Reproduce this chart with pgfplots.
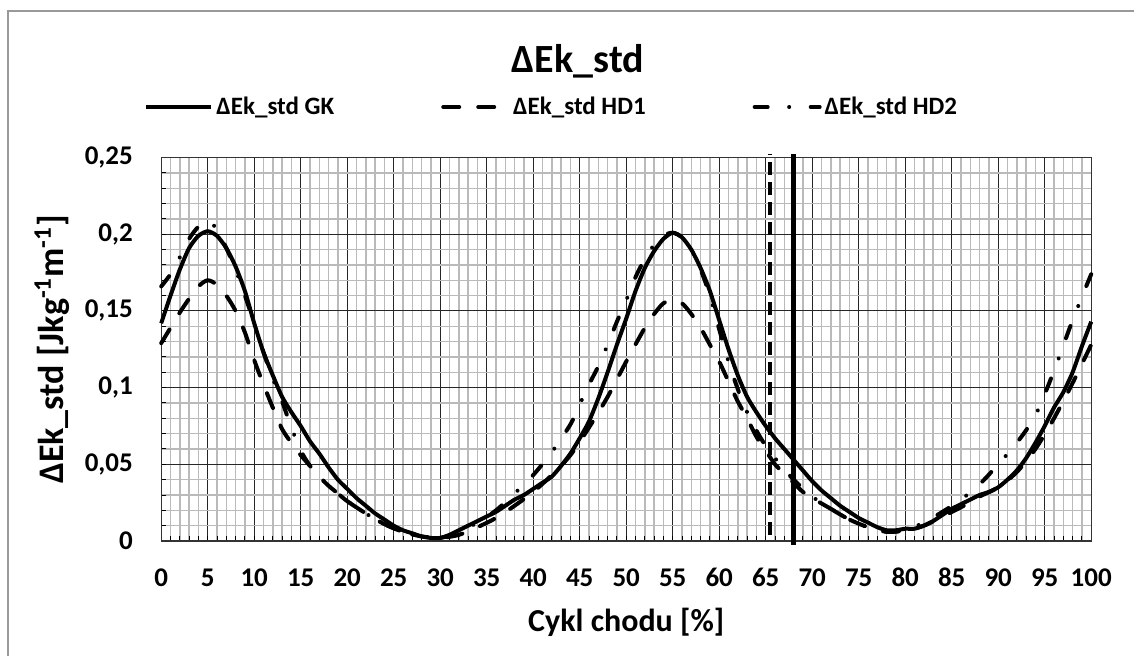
\documentclass[border=0pt]{standalone}
\usepackage{pgfplots}
\pgfplotsset{compat=1.18}
\usepackage{fontspec}
\setmainfont{Carlito}
\begin{document}
\begin{tikzpicture}
\path[use as bounding box] (0,0) rectangle (567pt,327.5pt);
\draw[color=gray!80, line width=1.3pt] (4pt,322pt) rectangle (620pt,-30pt);
\begin{axis}[
  at={(80.6pt,57pt)}, anchor=south west,
  scale only axis, width=465pt, height=191.7pt,
  xmin=0, xmax=100, ymin=0, ymax=0.25,
  clip=false,
  xtick={0,5,...,100}, ytick={0,0.05,...,0.25},
  minor x tick num=4, minor y tick num=4,
  grid=both,
  major grid style={black!85, line width=0.5pt},
  minor grid style={black!27, line width=0.75pt},
  axis line style={black!80, line width=0.6pt},
  tick align=inside, xtick pos=bottom, ytick pos=left,
  major tick length=2.5pt, minor tick length=2.5pt,
  tick style={black, line width=0.5pt},
  scaled y ticks=false,
  /pgf/number format/.cd, use comma, fixed, precision=2, assume math mode=true,
  /pgfplots/.cd,
  every tick label/.append style={font=\fontsize{13.5}{16}\selectfont\bfseries},
  yticklabel style={anchor=east, inner sep=0pt, xshift=-14pt},
  xticklabel style={anchor=base, inner sep=0pt, yshift=-22.5pt},
  xlabel={Cykl chodu [\%]},
  ylabel={ΔEk\_std [Jkg\textsuperscript{-1}m\textsuperscript{-1}]},
  xlabel style={at={(axis description cs:0.5,-0.211)}, anchor=center, font=\fontsize{16}{19}\selectfont\bfseries},
  ylabel style={at={(axis description cs:-0.1174,0.5)}, anchor=center, rotate=0, font=\fontsize{18}{22}\selectfont\bfseries},
  title={ΔEk\_std},
  title style={at={(axis description cs:0.448,1.19)}, anchor=base, font=\fontsize{20}{24}\selectfont\bfseries},
  legend columns=3,
  legend style={at={(axis description cs:-0.0185,1.132)}, anchor=west, draw=none, fill=none, inner sep=0pt,
    font=\fontsize{12.5}{15}\selectfont\bfseries,
    nodes={inner sep=1.5pt},
    /tikz/every even column/.append style={column sep=52pt}},
  legend image code/.code={\draw[#1] (0pt,0pt) -- (32.5pt,0pt);},
]
\addplot[black, line width=2pt, smooth, tension=0.4] coordinates {
(0,0.142)(1,0.160)(2,0.177)(3,0.191)(4,0.199)(5,0.202)(6,0.199)(7,0.191)(8,0.179)(9,0.163)
(10,0.142)(11,0.123)(12,0.108)(13,0.094)(14,0.084)(15,0.075)(16,0.065)(17,0.057)(18,0.048)(19,0.040)
(20,0.034)(21,0.028)(22,0.023)(23,0.018)(24,0.014)(25,0.010)(26,0.007)(27,0.005)(28,0.003)(29,0.002)
(30,0.002)(31,0.004)(32,0.007)(33,0.010)(34,0.013)(35,0.016)(36,0.019)(37,0.023)(38,0.027)(39,0.030)
(40,0.034)(41,0.038)(42,0.042)(43,0.049)(44,0.057)(45,0.067)(46,0.078)(47,0.093)(48,0.110)(49,0.128)
(50,0.145)(51,0.163)(52,0.178)(53,0.189)(54,0.197)(55,0.201)(56,0.198)(57,0.190)(58,0.178)(59,0.163)
(60,0.144)(61,0.125)(62,0.108)(63,0.094)(64,0.084)(65,0.075)(66,0.067)(67,0.060)(68,0.053)(69,0.046)
(70,0.039)(71,0.033)(72,0.028)(73,0.023)(74,0.019)(75,0.015)(76,0.012)(77,0.009)(78,0.007)(79,0.007)
(80,0.008)(81,0.008)(82,0.010)(83,0.013)(84,0.017)(85,0.021)(86,0.024)(87,0.027)(88,0.030)(89,0.032)
(90,0.035)(91,0.040)(92,0.046)(93,0.054)(94,0.064)(95,0.075)(96,0.087)(97,0.097)(98,0.110)(99,0.127)
(100,0.143)};
\addlegendentry{ΔEk\_std GK}
\addplot[black, line width=2pt, line cap=round, dash pattern=on 8pt off 9.5pt, smooth, tension=0.5] coordinates {
(0,0.129)(1,0.139)(2,0.149)(3,0.158)(4,0.166)(5,0.170)(6,0.167)(7,0.160)(8,0.150)(9,0.136)
(10,0.118)(11,0.102)(12,0.087)(13,0.073)(14,0.064)(15,0.056)(16,0.049)(17,0.042)(18,0.036)(19,0.031)
(20,0.026)(22,0.018)(24,0.011)(26,0.006)(28,0.003)(30,0.002)(32,0.004)(34,0.009)(36,0.015)(38,0.023)
(40,0.032)(42,0.043)(44,0.056)(46,0.074)(48,0.094)(50,0.117)(52,0.139)(53,0.148)(54,0.155)(55,0.157)
(56,0.155)(57,0.148)(58,0.139)(59,0.128)(60,0.117)(61,0.104)(62,0.091)(63,0.080)(64,0.068)(65,0.059)
(66,0.050)(67,0.044)(68,0.038)(69,0.032)(70,0.028)(72,0.021)(74,0.014)(76,0.009)(78,0.006)(80,0.007)
(82,0.010)(84,0.016)(86,0.022)(88,0.029)(90,0.035)(92,0.045)(94,0.060)(96,0.080)(98,0.103)(100,0.128)};
\addlegendentry{ΔEk\_std HD1}
\addplot[black, line width=2pt, line cap=round, dash pattern=on 6.5pt off 10.75pt on 0.01pt off 10.75pt, smooth, tension=0.5] coordinates {
(0,0.166)(1,0.174)(2,0.185)(3,0.197)(4,0.205)(5,0.209)(6,0.203)(7,0.191)(8,0.177)(9,0.160)
(10,0.142)(11,0.123)(12,0.106)(13,0.091)(14,0.074)(15,0.059)(16,0.049)(17,0.042)(18,0.036)(19,0.031)
(20,0.026)(22,0.018)(24,0.011)(26,0.006)(28,0.003)(30,0.002)(32,0.006)(34,0.012)(36,0.020)(38,0.031)
(40,0.043)(42,0.058)(44,0.076)(45,0.089)(46,0.102)(47,0.114)(48,0.128)(49,0.143)(50,0.157)(51,0.172)
(52,0.184)(53,0.193)(54,0.199)(55,0.201)(56,0.198)(57,0.190)(58,0.177)(59,0.160)(60,0.138)(61,0.117)
(62,0.099)(63,0.084)(64,0.072)(65,0.062)(66,0.054)(67,0.047)(68,0.040)(70,0.029)(72,0.021)(74,0.014)
(76,0.009)(78,0.006)(80,0.007)(82,0.012)(84,0.019)(86,0.027)(88,0.037)(90,0.050)(92,0.064)(94,0.082)
(96,0.111)(98,0.144)(100,0.174)};
\addlegendentry{ΔEk\_std HD2}
\addplot[black, line width=2pt, dash pattern=on 6.5pt off 3.5pt, forget plot] coordinates {(65.5,0.004)(65.5,0.2523)};
\addplot[black, line width=2.5pt, forget plot] coordinates {(68,-0.0026)(68,0.2523)};
\end{axis}
\end{tikzpicture}
\end{document}
